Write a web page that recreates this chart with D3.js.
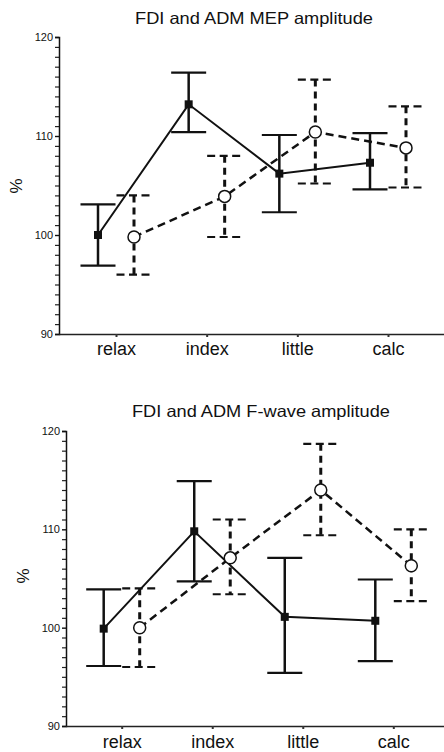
<!DOCTYPE html>
<html><head><meta charset="utf-8">
<script src="https://cdn.jsdelivr.net/npm/d3@7"></script>
<style>
html,body{margin:0;padding:0;background:#fff;}
svg{display:block;}
text{font-family:"Liberation Sans",Arial,sans-serif;fill:#111;}
</style></head>
<body>
<svg id="chart" width="444" height="752"></svg>
<script>
const categories = ["relax", "index", "little", "calc"];
const yTicks = [90, 100, 110, 120];
const yMinorTicks = [91,92,93,94,95,96,97,98,99,101,102,103,104,105,106,107,108,109,111,112,113,114,115,116,117,118,119];

// Panel 1: MEP amplitude
const mepFDIMean = [100.0, 113.2, 106.2, 107.3];
const mepFDIHigh = [103.1, 116.4, 110.1, 110.3];
const mepFDILow  = [96.9, 110.4, 102.3, 104.6];
const mepADMMean = [99.8, 103.9, 110.4, 108.8];
const mepADMHigh = [104.0, 108.0, 115.7, 113.0];
const mepADMLow  = [96.0, 99.8, 105.2, 104.8];

// Panel 2: F-wave amplitude
const fwFDIMean = [99.9, 109.8, 101.1, 100.7];
const fwFDIHigh = [103.9, 114.9, 107.1, 104.9];
const fwFDILow  = [96.1, 104.7, 95.4, 96.6];
const fwADMMean = [100.0, 107.1, 114.0, 106.3];
const fwADMHigh = [104.0, 111.0, 118.7, 110.0];
const fwADMLow  = [96.0, 103.4, 109.4, 102.7];

const svg = d3.select("#chart");

function panel(opt) {
  const g = svg.append("g");
  const y = d3.scaleLinear().domain([90, 120]).range([opt.yBottom, opt.yTop]);
  const x = d3.scalePoint().domain(categories).range([opt.xFirst, opt.xLast]);

  // title
  g.append("text").attr("x", opt.titleX).attr("y", opt.titleY)
    .attr("text-anchor", "middle").attr("font-size", 16.5)
    .attr("textLength", opt.titleLen).attr("lengthAdjust", "spacingAndGlyphs")
    .text(opt.title);

  // minor ticks via axis
  const minorAxis = d3.axisLeft(y).tickValues(yMinorTicks).tickSize(4).tickFormat("");
  const ma = g.append("g").attr("transform", `translate(${opt.axisX},0)`).call(minorAxis);
  ma.select(".domain").remove();
  ma.selectAll(".tick line").attr("stroke", "#222").attr("stroke-width", 1.2);

  // y axis
  const yAxis = d3.axisLeft(y).tickValues(yTicks).tickSize(4).tickPadding(2).tickFormat(d3.format("d"));
  const ya = g.append("g").attr("transform", `translate(${opt.axisX},0)`).call(yAxis);
  ya.select(".domain").attr("stroke", "#111").attr("stroke-width", 1.5);
  ya.selectAll(".tick line").attr("stroke", "#111").attr("stroke-width", 1.4);
  ya.selectAll(".tick text").attr("font-size", 11).attr("font-family", "Liberation Sans, Arial, sans-serif").attr("fill", "#111");

  // x axis
  const xAxis = d3.axisBottom(x).tickSize(3).tickPadding(6);
  const xa = g.append("g").attr("transform", `translate(0,${opt.yBottom})`).call(xAxis);
  xa.select(".domain").attr("d", `M${opt.axisX},0.5H444`).attr("stroke", "#222").attr("stroke-width", 1.5);
  xa.selectAll(".tick line").attr("stroke", "#333").attr("stroke-width", 2);
  xa.selectAll(".tick text").attr("font-size", 18).attr("font-family", "Liberation Sans, Arial, sans-serif").attr("fill", "#111")
    .attr("dy", null).attr("y", opt.labelDy);

  // % label
  g.append("text").attr("transform", `translate(${opt.pctX},${opt.pctY}) rotate(-90)`)
    .attr("text-anchor", "middle").attr("font-size", 17).text("%");

  const off = 18, cap = 17.5;
  function series(mean, hi, lo, dx, dashed) {
    const pts = categories.map((c, i) => ({c, m: mean[i], h: hi[i], l: lo[i]}));
    const px = d => x(d.c) + dx;
    g.append("path").datum(pts)
      .attr("d", d3.line().x(px).y(d => y(d.m)))
      .attr("fill", "none").attr("stroke", "#111")
      .attr("stroke-width", dashed ? 2.5 : 2)
      .attr("stroke-dasharray", dashed ? "8,5" : null);
    const eb = g.append("g");
    eb.selectAll("line.v").data(pts).join("line").attr("class", "v")
      .attr("x1", px).attr("x2", px).attr("y1", d => y(d.h)).attr("y2", d => y(d.l))
      .attr("stroke", "#111").attr("stroke-width", dashed ? 3 : 2.5)
      .attr("stroke-dasharray", dashed ? "7,5" : null);
    ["h", "l"].forEach(k => {
      eb.selectAll("line.c" + k).data(pts).join("line").attr("class", "c" + k)
        .attr("x1", d => px(d) - cap).attr("x2", d => px(d) + cap)
        .attr("y1", d => y(d[k])).attr("y2", d => y(d[k]))
        .attr("stroke", "#111").attr("stroke-width", 2.2)
        .attr("stroke-dasharray", dashed ? "8,4.5" : null);
    });
    if (dashed) {
      g.append("g").selectAll("circle").data(pts).join("circle")
        .attr("cx", px).attr("cy", d => y(d.m)).attr("r", 6)
        .attr("fill", "#fff").attr("stroke", "#111").attr("stroke-width", 1.5);
    } else {
      g.append("g").selectAll("rect").data(pts).join("rect")
        .attr("x", d => px(d) - 4).attr("y", d => y(d.m) - 4)
        .attr("width", 8).attr("height", 8).attr("fill", "#111");
    }
  }
  series(opt.fdi[0], opt.fdi[1], opt.fdi[2], -off, false);
  series(opt.adm[0], opt.adm[1], opt.adm[2], off, true);
}

panel({
  title: "FDI and ADM MEP amplitude", titleX: 254, titleY: 24, titleLen: 238,
  axisX: 59, yTop: 37, yBottom: 334, xFirst: 116, xLast: 388,
  labelDy: 21, pctX: 22, pctY: 186,
  fdi: [mepFDIMean, mepFDIHigh, mepFDILow],
  adm: [mepADMMean, mepADMHigh, mepADMLow]
});
panel({
  title: "FDI and ADM F-wave amplitude", titleX: 261, titleY: 417, titleLen: 258,
  axisX: 66, yTop: 431, yBottom: 726, xFirst: 121.7, xLast: 393.3,
  labelDy: 22, pctX: 29, pctY: 576,
  fdi: [fwFDIMean, fwFDIHigh, fwFDILow],
  adm: [fwADMMean, fwADMHigh, fwADMLow]
});
</script>
</body></html>
